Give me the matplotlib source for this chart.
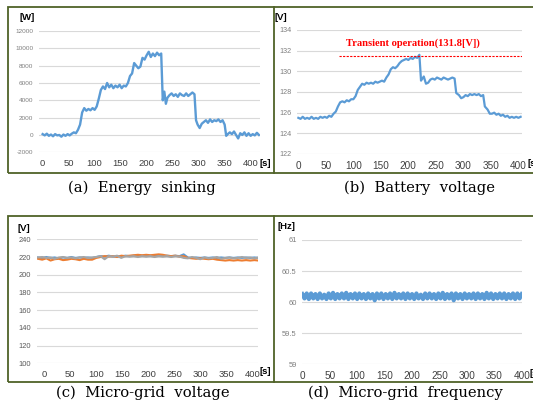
import numpy as np
import matplotlib
matplotlib.use("Agg")
from matplotlib import pyplot as plt
from matplotlib.patches import Rectangle
from matplotlib.lines import Line2D

plt.rcParams['font.family'] = ['Liberation Sans Narrow', 'Liberation Sans', 'DejaVu Sans']
plt.rcParams['axes.unicode_minus'] = False

W, H = 533, 405

# (a) energy sinking [W]
t_a = [0, 4, 8, 12, 16, 20, 24, 28, 32, 36, 40, 44, 48, 52, 56, 60, 64, 68, 72, 76,
       80, 84, 88, 92, 96, 100, 104, 108, 112, 116, 120, 124, 128, 132, 136, 140, 144, 148, 152, 156,
       160, 164, 168, 172, 176, 180, 184, 188, 192, 196, 200, 204, 208, 212, 216, 220, 224, 228, 231, 234,
       237, 240, 244, 248, 252, 256, 260, 264, 268, 272, 276, 280, 284, 288, 292, 295, 298, 302, 306, 310,
       314, 318, 322, 326, 330, 334, 338, 342, 346, 350, 353, 356, 360, 364, 368, 372, 376, 380, 384, 388,
       392, 396, 400, 404, 408, 412, 416]
p_a = [100, -50, 150, -100, 50, -150, 100, -50, 0, -200, 50, -100, 100, -50, 150, 300, 200, 600, 1200, 2600,
       3100, 2800, 3000, 2850, 3100, 2900, 3300, 4200, 5200, 5600, 5300, 6000, 5500, 5800, 5400, 5700, 5500, 5800, 5400, 5700,
       5600, 6000, 6800, 7100, 8300, 8000, 7700, 7900, 8900, 8700, 9200, 9600, 9000, 9400, 9100, 9500, 9200, 9400, 4000, 5000,
       3600, 4300, 4600, 4800, 4500, 4700, 4400, 4800, 4600, 4500, 4800, 4500, 4700, 4900, 4700, 1700, 1200, 800, 1300, 1500,
       1700, 1400, 1800, 1500, 1700, 1600, 1800, 1500, 1700, 1200, -100, 100, 300, 100, 400, 0, -400, 200, 0, 300,
       -100, 200, -100, 100, -50, 250, 0]

# (b) battery voltage [V]
t_b = [0, 4, 8, 12, 16, 20, 24, 28, 32, 36, 40, 44, 48, 52, 56, 60, 64, 68, 72, 76,
       80, 84, 88, 92, 96, 100, 104, 108, 112, 116, 120, 124, 128, 132, 136, 140, 144, 148, 152, 156,
       160, 164, 168, 172, 176, 180, 184, 188, 192, 196, 200, 204, 208, 212, 216, 220, 223, 228, 232, 236,
       240, 244, 248, 252, 256, 260, 264, 268, 272, 276, 280, 284, 287, 292, 296, 300, 304, 308, 312, 316,
       320, 324, 328, 332, 336, 339, 344, 348, 352, 356, 360, 364, 368, 372, 376, 380, 384, 388, 392, 396,
       400, 404]
v_b = [125.5, 125.4, 125.6, 125.4, 125.5, 125.4, 125.6, 125.4, 125.5, 125.4, 125.6, 125.5, 125.6, 125.5, 125.7, 125.6, 125.9, 126.1, 126.6, 127.0,
       127.1, 127.0, 127.2, 127.1, 127.3, 127.3, 127.6, 128.2, 128.5, 128.8, 128.7, 128.9, 128.8, 128.9, 128.8, 129.0, 128.9, 129.0, 129.1, 129.0,
       129.4, 129.7, 130.2, 130.4, 130.3, 130.5, 130.8, 131.0, 131.1, 131.2, 131.1, 131.3, 131.2, 131.4, 131.3, 131.6, 129.1, 129.5, 128.8, 128.9,
       129.2, 129.3, 129.2, 129.4, 129.3, 129.2, 129.4, 129.3, 129.2, 129.3, 129.4, 129.3, 127.9, 127.7, 127.4, 127.5, 127.7, 127.6, 127.8, 127.7,
       127.8, 127.7, 127.8, 127.6, 127.7, 126.6, 126.3, 125.9, 125.9, 126.0, 125.8, 125.9, 125.7, 125.8, 125.6, 125.7, 125.5, 125.6, 125.5, 125.6,
       125.5, 125.6]
v_limit = 131.45

# (c) micro-grid voltage [V], three phases
t_c = [-12, -4, 4, 12, 20, 28, 36, 44, 52, 60, 68, 76, 84, 92, 100, 108, 116, 124, 132, 140,
       148, 156, 164, 172, 180, 188, 196, 204, 212, 220, 228, 236, 244, 252, 260, 268, 276, 284, 292, 300,
       308, 316, 324, 332, 340, 348, 356, 364, 372, 380, 388, 396, 404, 412]
va_c = [219.5, 219, 220, 219, 219.5, 218.5, 219.5, 219, 220, 219, 219.5, 219, 219.5, 219, 220, 221, 220.5, 221.5, 220.5, 221,
        220.5, 221.5, 221, 221.5, 221, 221.5, 221, 221.5, 221, 221.5, 221, 221.5, 221, 221.5, 221, 223, 219.5, 219, 219.5, 219,
        219.5, 219, 219.5, 219, 219.5, 219, 219.5, 219, 219.5, 219, 219.5, 219, 219.5, 219]
vb_c = [218, 217, 218.5, 216, 217.5, 218, 216.5, 217, 218, 217.5, 216.5, 218, 217, 217, 219, 220, 221, 220.5, 221, 220,
        221.5, 221, 221.5, 222, 222.5, 222, 222.5, 222, 222.5, 223, 222.5, 221.5, 221, 221.5, 220.5, 221, 219, 218.5, 218, 218.5,
        218, 217.5, 218, 217, 216.5, 216, 216.5, 216, 216.5, 216, 216.5, 216, 216.5, 216]
vc_c = [219.5, 220, 219, 219.5, 218, 219.5, 220, 219, 219.5, 218.5, 219.5, 220, 219, 219.5, 220, 221, 217.5, 221, 220.5, 221.5,
        219, 221, 220.5, 221, 220, 221, 220.5, 221, 220, 221, 220.5, 221, 220, 221, 220.5, 219, 218.5, 220, 219, 217.5,
        219.5, 218.5, 219, 220, 218, 219, 219.5, 218.5, 219, 220, 219, 219.5, 218.5, 219.5]

# (d) micro-grid frequency [Hz]
t_d = np.arange(0, 401, 4)
f_d = [60.13, 60.06, 60.14, 60.05, 60.14, 60.06, 60.13, 60.05, 60.14, 60.06,
       60.12, 60.05, 60.14, 60.06, 60.15, 60.05, 60.13, 60.06, 60.14, 60.06,
       60.15, 60.05, 60.13, 60.06, 60.14, 60.05, 60.14, 60.06, 60.13, 60.05,
       60.14, 60.06, 60.13, 60.03, 60.14, 60.06, 60.14, 60.05, 60.13, 60.06,
       60.14, 60.05, 60.15, 60.06, 60.13, 60.06, 60.14, 60.05, 60.14, 60.06,
       60.13, 60.05, 60.14, 60.06, 60.12, 60.05, 60.14, 60.06, 60.14, 60.06,
       60.13, 60.05, 60.14, 60.06, 60.15, 60.05, 60.13, 60.06, 60.14, 60.03,
       60.14, 60.06, 60.13, 60.05, 60.14, 60.06, 60.13, 60.06, 60.14, 60.05,
       60.14, 60.06, 60.13, 60.05, 60.15, 60.06, 60.14, 60.05, 60.13, 60.06,
       60.14, 60.06, 60.14, 60.05, 60.13, 60.06, 60.14, 60.05, 60.14, 60.06,
       60.13]

x_ticks = [0, 50, 100, 150, 200, 250, 300, 350, 400]

BLUE = '#5b9bd5'
ORANGE = '#ed7d31'
GRAY = '#a5a5a5'
FRAME = '#4f6228'


def px(x, y):
    return x / W, 1 - y / H


def make_ax(x0, y0, x1, y1):
    return plt.gcf().add_axes([x0 / W, 1 - y1 / H, (x1 - x0) / W, (y1 - y0) / H])


def style(ax, xlim, ylim, yticks, ylabels, ysize, ycol, xsize):
    ax.set_xlim(*xlim)
    ax.set_ylim(*ylim)
    ax.set_yticks(yticks)
    ax.set_yticklabels(ylabels)
    ax.set_xticks(x_ticks)
    ax.set_xticklabels([str(v) for v in x_ticks])
    for s in ax.spines.values():
        s.set_visible(False)
    ax.grid(axis='y', color='#d9d9d9', lw=0.8)
    ax.set_axisbelow(True)
    ax.tick_params(axis='both', length=0)
    ax.tick_params(axis='y', labelsize=ysize, labelcolor=ycol, pad=4)
    ax.tick_params(axis='x', labelsize=xsize, labelcolor='#404040', pad=5)
    ax.patch.set_alpha(0)


fig = plt.figure(figsize=(W / 100, H / 100), dpi=100)

# (a)
ax = make_ax(39, 31, 260, 152.3)
ax.plot(t_a, p_a, color=BLUE, lw=1.7)
style(ax, (-7, 418), (-2000, 12000), range(-2000, 12001, 2000),
      [str(v) for v in range(-2000, 12001, 2000)], 4.6, '#7f7f7f', 6.8)

# (b)
ax = make_ax(296.7, 30, 521.7, 154)
ax.plot(t_b, v_b, color=BLUE, lw=1.6)
ax.plot([74, 406], [v_limit, v_limit], color='#ff0000', lw=0.8, ls=(0, (2, 1.2)))
ax.text(208, 132.75, 'Transient operation(131.8[V])', color='#ff0000', fontsize=7.6,
        fontweight='bold', family='Liberation Serif', ha='center', va='center')
style(ax, (-3, 406), (122, 134), range(122, 135, 2),
      [str(v) for v in range(122, 135, 2)], 5.2, '#7f7f7f', 7.2)

# (c)
ax = make_ax(36.7, 239.3, 258.3, 363.3)
ax.plot(t_c, va_c, color=BLUE, lw=1.5)
ax.plot(t_c, vb_c, color=ORANGE, lw=1.5)
ax.plot(t_c, vc_c, color=GRAY, lw=1.5)
style(ax, (-14.6, 411.5), (100, 240), range(100, 241, 20),
      [str(v) for v in range(100, 241, 20)], 5.4, '#595959', 6.8)

# (d)
ax = make_ax(302.3, 240, 522.3, 364.3)
ax.plot(t_d, f_d, color=BLUE, lw=3)
style(ax, (0, 401), (59, 61), [59, 59.5, 60, 60.5, 61],
      ['59', '59.5', '60', '60.5', '61'], 5.4, '#7f7f7f', 7.2)

# unit labels
for x, y, s in [(27, 18, '[W]'), (281, 17, '[V]'), (24, 228, '[V]'), (286, 227, '[Hz]')]:
    fig.text(*px(x, y), s, fontsize=6.8, fontweight='bold', ha='center', va='center')
for x, y in [(259, 163), (528, 163), (259, 371), (530, 374)]:
    fig.text(*px(x, y), '[s]', fontsize=6.8, fontweight='bold', ha='left', va='center')

# captions
for x, y, s in [(142, 188, '(a)  Energy  sinking'), (420, 188, '(b)  Battery  voltage'),
                (143, 393, '(c)  Micro-grid  voltage'), (405, 393, '(d)  Micro-grid  frequency')]:
    fig.text(*px(x, y), s, fontsize=10.6, family='DejaVu Serif', ha='center', va='center')

# frames round the panels
for top, bot in [(7, 173), (215.7, 381.7)]:
    x0, y0 = px(8, bot)
    fig.add_artist(Rectangle((x0, y0), (560 - 8) / W, (bot - top) / H, transform=fig.transFigure,
                             fill=False, ec=FRAME, lw=1.3))
    fig.add_artist(Line2D([273.5 / W, 273.5 / W], [1 - top / H, 1 - bot / H],
                          transform=fig.transFigure, color=FRAME, lw=1.3))

plt.savefig("out.png", dpi=100)
